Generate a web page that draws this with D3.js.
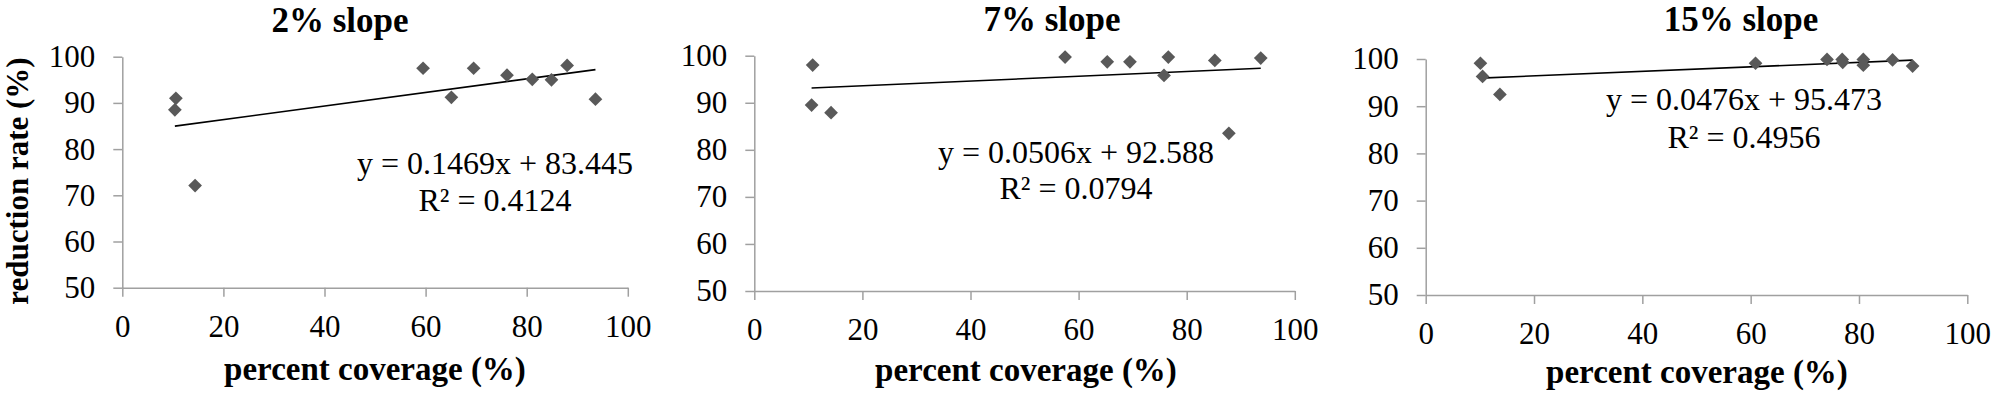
<!DOCTYPE html>
<html>
<head>
<meta charset="utf-8">
<script src="https://cdn.jsdelivr.net/npm/d3@7"></script>
<style>
  body { margin: 0; background: #fff; }
  text { font-family: "Liberation Serif", "Times New Roman", serif; }
</style>
</head>
<body>
<svg id="chart" width="1991" height="397"></svg>
<script>
const panelTitles = ["2% slope", "7% slope", "15% slope"];

// percent coverage / reduction rate
const coverage2 = [10.6, 10.4, 14.4, 59.5, 65.1, 69.5, 76.1, 81.1, 84.9, 88.0, 93.6];
const reduction2 = [91.0, 88.5, 72.1, 97.5, 91.2, 97.5, 96.0, 95.1, 95.0, 98.1, 90.8];

const coverage7 = [10.8, 10.6, 14.2, 57.5, 65.3, 69.5, 76.6, 75.8, 85.2, 87.8, 93.7];
const reduction7 = [98.0, 89.5, 87.9, 99.7, 98.7, 98.7, 99.7, 95.8, 99.0, 83.5, 99.5];

const coverage15 = [10.1, 10.5, 13.7, 60.9, 74.1, 76.9, 77.0, 80.8, 80.8, 86.2, 89.9];
const reduction15 = [99.1, 96.3, 92.5, 99.1, 99.9, 99.9, 99.3, 99.9, 98.7, 99.8, 98.5];

// linear trendlines as printed on the chart
const fitSlopes = [0.1469, 0.0506, 0.0476];
const fitIntercepts = [83.445, 92.588, 95.473];
const rSquared = ["0.4124", "0.0794", "0.4956"];

const xTicks = [0, 20, 40, 60, 80, 100];
const yTicks = [50, 60, 70, 80, 90, 100];

const xLabel = "percent coverage (%)";
const yLabel = "reduction rate (%)";

const series = [
    { x: coverage2, y: reduction2 },
    { x: coverage7, y: reduction7 },
    { x: coverage15, y: reduction15 }
];

// where each panel sits on the page
const layout = [
    { left: 122.3, right: 627.8, top: 56.7, bottom: 287.7, titleX: 340, titleY: 31.5,
      eqX: 495, eqY1: 174, eqY2: 211, xlabX: 375, xlabY: 380 },
    { left: 754.3, right: 1294.8, top: 55.7, bottom: 291, titleX: 1052, titleY: 31,
      eqX: 1076, eqY1: 163, eqY2: 199, xlabX: 1026, xlabY: 381 },
    { left: 1425.7, right: 1967.3, top: 59, bottom: 295, titleX: 1741, titleY: 31,
      eqX: 1744, eqY1: 110, eqY2: 148, xlabX: 1697, xlabY: 383 }
];

const svg = d3.select("#chart");
const axisColor = "#a0a0a0";
const serif = "'Liberation Serif', 'Times New Roman', serif";

panelTitles.forEach((title, i) => {
    const L = layout[i];
    const s = series[i];
    const pts = s.x.map((x, j) => ({ x: x, y: s.y[j] }));

    const x = d3.scaleLinear().domain([0, 100]).range([L.left, L.right]);
    const y = d3.scaleLinear().domain([50, 100]).range([L.bottom, L.top]);

    const g = svg.append("g");

    const yAxis = g.append("g")
        .attr("transform", `translate(${L.left},0)`)
        .call(d3.axisLeft(y).tickValues(yTicks).tickSize(9).tickSizeOuter(0).tickPadding(18));

    const xAxis = g.append("g")
        .attr("transform", `translate(0,${L.bottom})`)
        .call(d3.axisBottom(x).tickValues(xTicks).tickSize(9).tickSizeOuter(0).tickPadding(18));

    [xAxis, yAxis].forEach(a => {
        a.attr("font-family", serif).attr("font-size", 31);
        a.selectAll("path, line").attr("stroke", axisColor).attr("stroke-width", 1.5);
        a.selectAll("text")
            .attr("fill", "#000")
            .style("font-family", serif)
            .style("font-size", "31px");
    });

    // trendline over the range of the data
    const xr = d3.extent(pts, d => d.x);
    const fit = v => fitSlopes[i] * v + fitIntercepts[i];
    g.append("line")
        .attr("x1", x(xr[0])).attr("y1", y(fit(xr[0])))
        .attr("x2", x(xr[1])).attr("y2", y(fit(xr[1])))
        .attr("stroke", "#000")
        .attr("stroke-width", 1.6);

    g.selectAll(".pt")
        .data(pts)
        .join("path")
        .attr("class", "pt")
        .attr("transform", d => `translate(${x(d.x)},${y(d.y)})`)
        .attr("d", d3.symbol().type(d3.symbolDiamond2).size(120))
        .attr("fill", "#595959");

    g.append("text")
        .attr("x", L.titleX).attr("y", L.titleY)
        .attr("text-anchor", "middle")
        .style("font-size", "35px")
        .style("font-weight", "bold")
        .text(title);

    g.append("text")
        .attr("x", L.eqX).attr("y", L.eqY1)
        .attr("text-anchor", "middle")
        .style("font-size", "32px")
        .text(`y = ${fitSlopes[i]}x + ${fitIntercepts[i]}`);

    g.append("text")
        .attr("x", L.eqX).attr("y", L.eqY2)
        .attr("text-anchor", "middle")
        .style("font-size", "32px")
        .text(`R² = ${rSquared[i]}`);

    g.append("text")
        .attr("x", L.xlabX).attr("y", L.xlabY)
        .attr("text-anchor", "middle")
        .style("font-size", "33px")
        .style("font-weight", "bold")
        .text(xLabel);

    if (i === 0) {
        g.append("text")
            .attr("transform", "translate(28,181) rotate(-90)")
            .attr("text-anchor", "middle")
            .style("font-size", "31px")
            .style("font-weight", "bold")
            .text(yLabel);
    }
});
</script>
</body>
</html>
